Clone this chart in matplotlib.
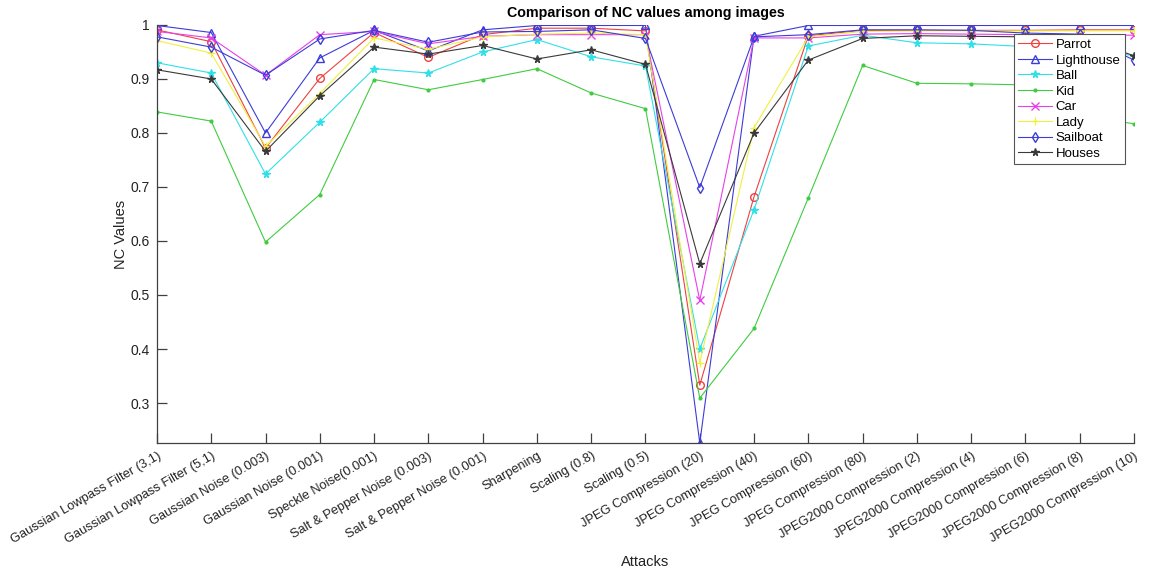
import matplotlib.pyplot as plt
import matplotlib.transforms as mtransforms
import numpy as np

plt.rcParams['font.family'] = ['Liberation Sans', 'DejaVu Sans']

attacks = [
    'Gaussian Lowpass Filter (3,1)', 'Gaussian Lowpass Filter (5,1)',
    'Gaussian Noise (0.003)', 'Gaussian Noise (0.001)', 'Speckle Noise(0.001)',
    'Salt & Pepper Noise (0.003)', 'Salt & Pepper Noise (0.001)', 'Sharpening',
    'Scaling (0.8)', 'Scaling (0.5)', 'JPEG Compression (20)',
    'JPEG Compression (40)', 'JPEG Compression (60)', 'JPEG Compression (80)',
    'JPEG2000 Compression (2)', 'JPEG2000 Compression (4)',
    'JPEG2000 Compression (6)', 'JPEG2000 Compression (8)',
    'JPEG2000 Compression (10)',
]

parrot = [0.991, 0.969, 0.772, 0.901, 0.986, 0.940, 0.982, 0.994, 0.994, 0.989,
          0.333, 0.682, 0.980, 0.990, 0.990, 0.990, 0.990, 0.991, 0.991]
lighthouse = [0.999, 0.986, 0.800, 0.939, 0.990, 0.952, 0.991, 0.999, 0.999, 0.999,
              0.226, 0.979, 0.999, 0.999, 0.999, 0.999, 0.999, 0.999, 0.999]
ball = [0.930, 0.911, 0.724, 0.820, 0.919, 0.911, 0.950, 0.973, 0.941, 0.924,
        0.400, 0.658, 0.961, 0.981, 0.967, 0.965, 0.960, 0.958, 0.943]
kid = [0.839, 0.822, 0.598, 0.686, 0.899, 0.880, 0.899, 0.919, 0.874, 0.845,
       0.309, 0.438, 0.680, 0.925, 0.892, 0.891, 0.889, 0.832, 0.817]
car = [0.988, 0.976, 0.907, 0.982, 0.988, 0.965, 0.979, 0.982, 0.982, 0.982,
       0.490, 0.976, 0.976, 0.983, 0.984, 0.983, 0.982, 0.982, 0.981]
lady = [0.971, 0.948, 0.775, 0.873, 0.976, 0.955, 0.978, 0.983, 0.985, 0.982,
        0.375, 0.810, 0.978, 0.988, 0.989, 0.989, 0.989, 0.989, 0.989]
sailboat = [0.978, 0.959, 0.907, 0.974, 0.990, 0.968, 0.987, 0.988, 0.991, 0.975,
            0.699, 0.978, 0.982, 0.991, 0.991, 0.990, 0.985, 0.983, 0.935]
houses = [0.917, 0.900, 0.766, 0.869, 0.959, 0.946, 0.962, 0.937, 0.954, 0.927,
          0.558, 0.800, 0.935, 0.975, 0.980, 0.979, 0.978, 0.977, 0.943]

series = [
    ('Parrot', parrot, '#f04040', 'o', 'none'),
    ('Lighthouse', lighthouse, '#3c3cd8', '^', 'none'),
    ('Ball', ball, '#30e0e8', '*', None),
    ('Kid', kid, '#40cc40', '.', None),
    ('Car', car, '#e840e8', 'x', None),
    ('Lady', lady, '#f0f040', '+', None),
    ('Sailboat', sailboat, '#3c3cd8', 'd', 'none'),
    ('Houses', houses, '#3a3a3a', '*', None),
]

fig = plt.figure(figsize=(11.54, 5.75), dpi=100)
ax = fig.add_axes([0.136, 0.2296, 0.8467, 0.727])

x = np.arange(len(attacks))
for name, vals, col, mk, fc in series:
    kw = dict(color=col, marker=mk, lw=0.8, ms=5.5, label=name)
    if fc is not None:
        kw['markerfacecolor'] = fc
    if mk == '.':
        kw['ms'] = 4
    ax.plot(x, vals, **kw)

ax.set_xlim(0, len(attacks) - 1)
lo = min(min(s[1]) for s in series)
ax.set_ylim(lo, 1.0)
ax.set_yticks(np.arange(0.3, 1.01, 0.1))
ax.set_yticklabels(['0.3', '0.4', '0.5', '0.6', '0.7', '0.8', '0.9', '1'])
ax.set_xticks(x)
ax.set_xticklabels(attacks, rotation=30, ha='right', rotation_mode='anchor')

# nudge the slanted labels so their ends sit just right of each tick
shift = mtransforms.ScaledTranslation(7 / 100, -2 / 100, fig.dpi_scale_trans)
for lab in ax.get_xticklabels():
    lab.set_transform(lab.get_transform() + shift)

gray = '#404040'
for side in ('top', 'right'):
    ax.spines[side].set_visible(False)
for side in ('left', 'bottom'):
    ax.spines[side].set_color(gray)
    ax.spines[side].set_linewidth(0.9)
ax.tick_params(direction='in', length=7, width=0.9, colors=gray,
               labelcolor='#222222', pad=5)
ax.tick_params(axis='x', labelsize=9.3)
ax.tick_params(axis='y', labelsize=10)

ax.set_xlabel('Attacks', fontsize=10.5, color='#222222')
ax.xaxis.set_label_coords(0.5, -0.268)
ax.set_ylabel('NC Values', fontsize=10.5, color='#222222', labelpad=2)
ax.set_title('Comparison of NC values among images', fontsize=10.3,
             fontweight='bold', pad=6)

leg = ax.legend(loc='upper right', bbox_to_anchor=(0.991, 0.978),
                borderaxespad=0, fontsize=9.5, fancybox=False,
                framealpha=1, edgecolor='#555555', handlelength=2.6,
                labelspacing=0.25, borderpad=0.35, handletextpad=0.25)
leg.get_frame().set_linewidth(0.8)

fig.savefig('out.png', dpi=100)
